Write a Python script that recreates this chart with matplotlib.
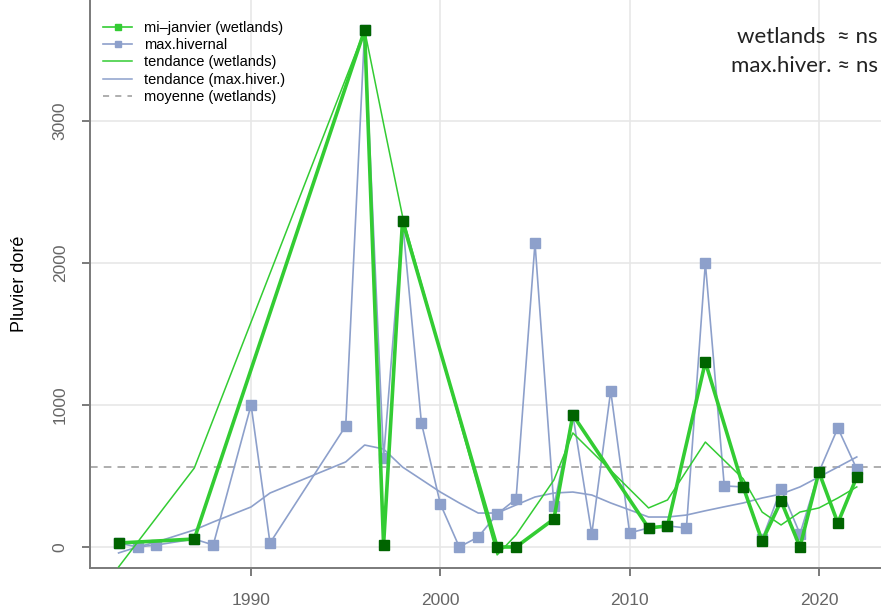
import numpy as np
import matplotlib
matplotlib.use("Agg")
import matplotlib.pyplot as plt
from matplotlib.lines import Line2D

# ---- data ----
wl_years = [1983, 1987, 1996, 1997, 1998, 2003, 2004, 2006, 2007, 2011, 2012,
            2014, 2016, 2017, 2018, 2019, 2020, 2021, 2022]
wl_vals = [28, 56, 3640, 14, 2296, 0, 0, 197, 930, 134, 148,
           1303, 423, 42, 324, 0, 528, 169, 493]
wl_trend = [-141, 556, 3640, 2980, 2330, -56, 85, 472, 803, 275, 331,
            739, 480, 246, 155, 246, 275, 345, 423]

bl_years = [1983, 1984, 1985, 1987, 1988, 1990, 1991, 1995, 1996, 1997, 1998,
            1999, 2000, 2001, 2002, 2003, 2004, 2005, 2006, 2007, 2008, 2009,
            2010, 2011, 2012, 2013, 2014, 2015, 2016, 2017, 2018, 2019, 2020,
            2021, 2022]
bl_vals = [28, 0, 14, 56, 14, 1000, 28, 852, 3640, 627, 2296,
           873, 303, 0, 70, 232, 338, 2141, 289, 930, 92, 1099,
           99, 134, 148, 134, 2000, 430, 423, 55, 408, 92, 528,
           838, 549]
bl_trend = [-42, 0, 35, 120, 176, 282, 380, 599, 718, 690, 563,
            475, 387, 310, 239, 239, 296, 352, 380, 387, 366, 310,
            261, 211, 211, 225, 255, 283, 310, 345, 373, 423, 493,
            563, 634]

x_ticks = [1990, 2000, 2010, 2020]
y_ticks = [0, 1000, 2000, 3000]
legend_labels = ["mi\u2013janvier (wetlands)", "max.hivernal", "tendance (wetlands)",
                 "tendance (max.hiver.)", "moyenne (wetlands)"]
annot_lines = ["wetlands  \u2248 ns", "max.hiver. \u2248 ns"]

GREEN = "#33CC33"
DKGREEN = "#006400"
BLUE = "#8DA0CB"
AXCOL = "#7a7a7a"

plt.rcParams['font.family'] = ['Liberation Sans', 'DejaVu Sans']

fig = plt.figure(figsize=(8.81, 6.12), dpi=100)
W, H = 881, 612
ax = fig.add_axes([90 / W, 44 / H, (881 - 90) / W, 568 / H])

ax.set_xlim(1981.49, 2023.28)
ax.set_ylim(-148, 3852)

ax.set_xticks(x_ticks)
ax.set_yticks(y_ticks)
ax.grid(True, color="#e6e6e6", linewidth=1.1, zorder=0)
ax.set_axisbelow(True)

for s in ["top", "right"]:
    ax.spines[s].set_visible(False)
for s in ["left", "bottom"]:
    ax.spines[s].set_color(AXCOL)
    ax.spines[s].set_linewidth(1.4)

ax.tick_params(axis="both", direction="out", length=6, width=1.4, color=AXCOL,
               labelcolor="#666666", labelsize=12.5)
ax.tick_params(axis="x", pad=12)
ax.tick_params(axis="y", pad=10)
for lab in ax.get_yticklabels():
    lab.set_rotation(90)
    lab.set_va("center")

ax.set_ylabel("Pluvier dor\u00e9", fontsize=13, color="black", labelpad=18)

mean_wl = np.mean(wl_vals)
ax.axhline(mean_wl, color="#999999", linewidth=1.1, linestyle=(0, (5, 4)), zorder=1)

ax.plot(bl_years, bl_vals, color=BLUE, linewidth=1.2, marker="s", markersize=7,
        markerfacecolor=BLUE, markeredgecolor=BLUE, zorder=2)
ax.plot(bl_years, bl_trend, color=BLUE, linewidth=1.2, zorder=3)
ax.plot(wl_years, wl_vals, color=GREEN, linewidth=2.6, zorder=4)
ax.plot(wl_years, wl_trend, color=GREEN, linewidth=1.1, zorder=5)
ax.plot(wl_years, wl_vals, linestyle="none", marker="s", markersize=7,
        markerfacecolor=DKGREEN, markeredgecolor=DKGREEN, zorder=6)

handles = [
    Line2D([], [], color=GREEN, linewidth=1.2, marker="s", markersize=5,
           markerfacecolor=GREEN, markeredgecolor=GREEN),
    Line2D([], [], color=BLUE, linewidth=1.2, marker="s", markersize=5,
           markerfacecolor=BLUE, markeredgecolor=BLUE),
    Line2D([], [], color=GREEN, linewidth=1.1),
    Line2D([], [], color=BLUE, linewidth=1.1),
    Line2D([], [], color="#999999", linewidth=1.1, linestyle=(0, (4, 4))),
]
leg = ax.legend(handles, legend_labels, loc="upper left",
                bbox_to_anchor=((103 - 90) / 791, 1 - 21 / 568),
                frameon=False, fontsize=10.5, handlelength=2.0, handletextpad=0.8,
                labelspacing=0.22, borderaxespad=0, borderpad=0)

for i, t in enumerate(annot_lines):
    ax.text((878 - 90) / 791, 1 - (37 + 29 * i) / 568, t, transform=ax.transAxes,
            ha="right", va="center", fontsize=16, color="#222222",
            family=["Lato", "DejaVu Sans"])

fig.savefig("out.png", dpi=100)
